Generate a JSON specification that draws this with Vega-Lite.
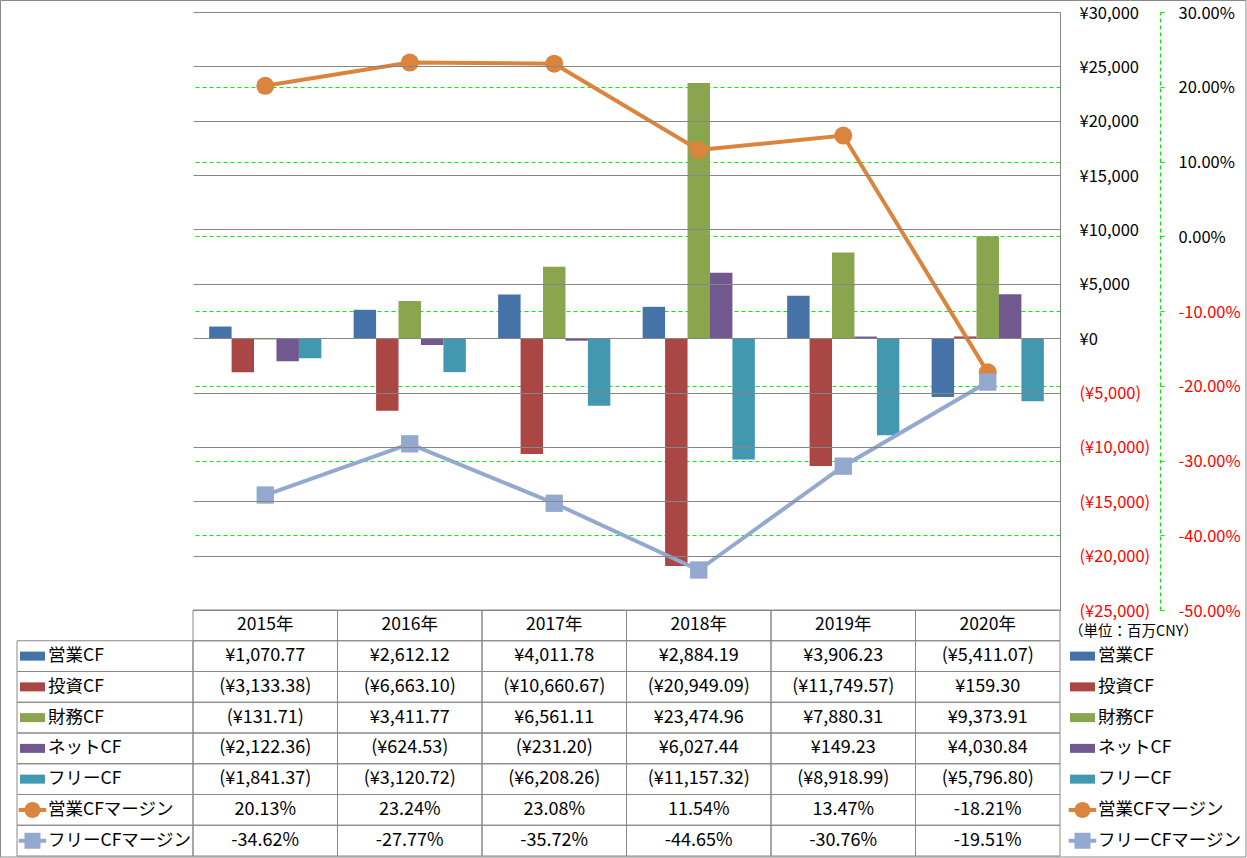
{
  "$schema": "https://vega.github.io/schema/vega-lite/v6.json",
  "width": 867,
  "height": 598,
  "autosize": {"type": "none"},
  "padding": {"left": 193, "top": 12, "right": 187, "bottom": 248},
  "background": "#ffffff",
  "config": {
    "font": "Noto Sans CJK JP",
    "view": {"stroke": null},
    "locale": {"number": {"decimal": ".", "thousands": ",", "grouping": [3], "currency": ["¥", ""], "minus": "-"}}
  },
  "datasets": {
    "cf": [
      {"series": "営業CF", "year": "2015年", "value": 1070.77},
      {"series": "営業CF", "year": "2016年", "value": 2612.12},
      {"series": "営業CF", "year": "2017年", "value": 4011.78},
      {"series": "営業CF", "year": "2018年", "value": 2884.19},
      {"series": "営業CF", "year": "2019年", "value": 3906.23},
      {"series": "営業CF", "year": "2020年", "value": -5411.07},
      {"series": "投資CF", "year": "2015年", "value": -3133.38},
      {"series": "投資CF", "year": "2016年", "value": -6663.10},
      {"series": "投資CF", "year": "2017年", "value": -10660.67},
      {"series": "投資CF", "year": "2018年", "value": -20949.09},
      {"series": "投資CF", "year": "2019年", "value": -11749.57},
      {"series": "投資CF", "year": "2020年", "value": 159.30},
      {"series": "財務CF", "year": "2015年", "value": -131.71},
      {"series": "財務CF", "year": "2016年", "value": 3411.77},
      {"series": "財務CF", "year": "2017年", "value": 6561.11},
      {"series": "財務CF", "year": "2018年", "value": 23474.96},
      {"series": "財務CF", "year": "2019年", "value": 7880.31},
      {"series": "財務CF", "year": "2020年", "value": 9373.91},
      {"series": "ネットCF", "year": "2015年", "value": -2122.36},
      {"series": "ネットCF", "year": "2016年", "value": -624.53},
      {"series": "ネットCF", "year": "2017年", "value": -231.20},
      {"series": "ネットCF", "year": "2018年", "value": 6027.44},
      {"series": "ネットCF", "year": "2019年", "value": 149.23},
      {"series": "ネットCF", "year": "2020年", "value": 4030.84},
      {"series": "フリーCF", "year": "2015年", "value": -1841.37},
      {"series": "フリーCF", "year": "2016年", "value": -3120.72},
      {"series": "フリーCF", "year": "2017年", "value": -6208.26},
      {"series": "フリーCF", "year": "2018年", "value": -11157.32},
      {"series": "フリーCF", "year": "2019年", "value": -8918.99},
      {"series": "フリーCF", "year": "2020年", "value": -5796.80},
      {"series": "営業CFマージン", "year": "2015年", "value": 0.2013},
      {"series": "営業CFマージン", "year": "2016年", "value": 0.2324},
      {"series": "営業CFマージン", "year": "2017年", "value": 0.2308},
      {"series": "営業CFマージン", "year": "2018年", "value": 0.1154},
      {"series": "営業CFマージン", "year": "2019年", "value": 0.1347},
      {"series": "営業CFマージン", "year": "2020年", "value": -0.1821},
      {"series": "フリーCFマージン", "year": "2015年", "value": -0.3462},
      {"series": "フリーCFマージン", "year": "2016年", "value": -0.2777},
      {"series": "フリーCFマージン", "year": "2017年", "value": -0.3572},
      {"series": "フリーCFマージン", "year": "2018年", "value": -0.4465},
      {"series": "フリーCFマージン", "year": "2019年", "value": -0.3076},
      {"series": "フリーCFマージン", "year": "2020年", "value": -0.1951}
    ],
    "series": [
      {"series": "営業CF"},
      {"series": "投資CF"},
      {"series": "財務CF"},
      {"series": "ネットCF"},
      {"series": "フリーCF"},
      {"series": "営業CFマージン"},
      {"series": "フリーCFマージン"}
    ],
    "unit": [{"t": "（単位：百万CNY）"}],
    "frame": [{"f": "all"}]
  },
  "layer": [
    {
      "data": {"name": "frame"},
      "mark": {"type": "rect", "filled": false, "stroke": "#898989", "strokeWidth": 1},
      "encoding": {
        "x": {"field": "f", "type": "nominal", "scale": {"type": "band", "domain": ["all"], "range": [-192.5, 1053], "paddingInner": 0, "paddingOuter": 0}, "axis": null},
        "y": {"field": "f", "type": "nominal", "scale": {"type": "band", "domain": ["all"], "range": [-11.5, 845], "paddingInner": 0, "paddingOuter": 0}, "axis": null}
      }
    },
    {
      "layer": [
        {
          "data": {"name": "cf"},
          "transform": [{"filter": {"field": "series", "oneOf": ["営業CF", "投資CF", "財務CF", "ネットCF", "フリーCF"]}}],
          "mark": {"type": "bar"},
          "encoding": {
            "x": {"field": "year", "type": "nominal", "scale": {"domain": ["2015年", "2016年", "2017年", "2018年", "2019年", "2020年"], "paddingInner": 0, "paddingOuter": 0}, "axis": null},
            "xOffset": {"field": "series", "type": "nominal", "scale": {"domain": ["営業CF", "投資CF", "財務CF", "ネットCF", "フリーCF"], "paddingInner": 0, "paddingOuter": 0.72}},
            "y": {
              "field": "value", "type": "quantitative",
              "scale": {"domain": [-25000, 30000], "nice": false, "zero": false},
              "axis": {
                "orient": "right", "title": null, "zindex": 1,
                "values": [-25000, -20000, -15000, -10000, -5000, 0, 5000, 10000, 15000, 20000, 25000, 30000],
                "format": "($,.0f",
                "grid": true, "gridColor": "#868686", "gridWidth": 1,
                "domain": true, "domainColor": "#868686", "domainWidth": 1,
                "ticks": false, "tickSize": 0,
                "labelPadding": 19, "labelAlign": "left", "labelBaseline": "middle", "labelFontSize": 16.5, "labelOffset": 1,
                "labelFont": "Noto Sans CJK JP",
                "labelColor": {"condition": {"test": "datum.value < 0", "value": "#ff0000"}, "value": "#000000"},
                "labelOverlap": false, "labelFlush": false, "labelBound": false
              }
            },
            "color": {"field": "series", "type": "nominal", "scale": {"domain": ["営業CF", "投資CF", "財務CF", "ネットCF", "フリーCF"], "range": ["#4572A7", "#AA4643", "#89A54E", "#71588F", "#4198AF"]}, "legend": null}
          }
        },
        {
          "data": {"name": "cf"},
          "encoding": {
            "x": {"field": "year", "type": "nominal", "scale": {"domain": ["2015年", "2016年", "2017年", "2018年", "2019年", "2020年"], "paddingInner": 0, "paddingOuter": 0}, "axis": null},
            "y": {
              "field": "value", "type": "quantitative",
              "scale": {"domain": [-0.5, 0.3], "nice": false, "zero": false},
              "axis": {
                "orient": "right", "offset": 100, "title": null, "zindex": 0,
                "values": [-0.5, -0.4, -0.3, -0.2, -0.1, 0, 0.1, 0.2, 0.3],
                "format": ".2%",
                "grid": true, "gridColor": "#00ee00", "gridDash": [4, 3], "gridWidth": 1,
                "gridOpacity": {"condition": {"test": "datum.value > 0.25 || datum.value < -0.45", "value": 0}, "value": 1},
                "domain": true, "domainColor": "#00ee00", "domainDash": [4, 3], "domainWidth": 1,
                "ticks": true, "tickColor": "#00ee00", "tickSize": 4, "tickWidth": 1,
                "labelPadding": 14, "labelAlign": "left", "labelBaseline": "middle", "labelFontSize": 16.5, "labelOffset": 1,
                "labelFont": "Noto Sans CJK JP",
                "labelColor": {"condition": {"test": "datum.value < 0", "value": "#ff0000"}, "value": "#000000"},
                "labelOverlap": false, "labelFlush": false, "labelBound": false
              }
            }
          },
          "layer": [
            {"transform": [{"filter": {"field": "series", "equal": "営業CFマージン"}}], "mark": {"type": "line", "color": "#DB843D", "strokeWidth": 4}},
            {"transform": [{"filter": {"field": "series", "equal": "営業CFマージン"}}], "mark": {"type": "point", "shape": "circle", "filled": true, "opacity": 1, "size": 324, "color": "#DB843D"}},
            {"transform": [{"filter": {"field": "series", "equal": "フリーCFマージン"}}], "mark": {"type": "line", "color": "#93A9CF", "strokeWidth": 4}},
            {"transform": [{"filter": {"field": "series", "equal": "フリーCFマージン"}}], "mark": {"type": "point", "shape": "square", "filled": true, "opacity": 1, "size": 300, "color": "#93A9CF"}}
          ]
        }
      ],
      "resolve": {"scale": {"y": "independent"}}
    },
    {
      "data": {"name": "cf"},
      "encoding": {
        "x": {"field": "year", "type": "nominal", "scale": {"type": "band", "domain": ["2015年", "2016年", "2017年", "2018年", "2019年", "2020年"], "paddingInner": 0, "paddingOuter": 0}, "axis": null},
        "y": {"field": "series", "type": "nominal", "scale": {"type": "band", "domain": ["hdr", "営業CF", "投資CF", "財務CF", "ネットCF", "フリーCF", "営業CFマージン", "フリーCFマージン"], "range": [598, 844], "paddingInner": 0, "paddingOuter": 0}, "axis": null}
      },
      "layer": [
        {"mark": {"type": "rect", "filled": false, "stroke": "#898989", "strokeWidth": 1}},
        {
          "transform": [{"filter": {"field": "series", "oneOf": ["営業CF", "投資CF", "財務CF", "ネットCF", "フリーCF"]}}],
          "mark": {"type": "text", "fontSize": 18, "align": "center", "baseline": "middle", "color": "#000000"},
          "encoding": {"text": {"field": "value", "type": "quantitative", "format": "($,.2f"}}
        },
        {
          "transform": [{"filter": {"field": "series", "oneOf": ["営業CFマージン", "フリーCFマージン"]}}],
          "mark": {"type": "text", "fontSize": 18, "align": "center", "baseline": "middle", "color": "#000000"},
          "encoding": {"text": {"field": "value", "type": "quantitative", "format": ".2%"}}
        },
        {
          "transform": [{"filter": {"field": "series", "equal": "営業CF"}}],
          "mark": {"type": "rect", "filled": false, "stroke": "#898989", "strokeWidth": 1},
          "encoding": {"y": {"datum": "hdr", "type": "nominal", "axis": null}}
        },
        {
          "transform": [{"filter": {"field": "series", "equal": "営業CF"}}],
          "mark": {"type": "text", "fontSize": 17.5, "align": "center", "baseline": "middle", "color": "#000000"},
          "encoding": {"y": {"datum": "hdr", "type": "nominal", "axis": null}, "text": {"field": "year", "type": "nominal"}}
        }
      ]
    },
    {
      "data": {"name": "series"},
      "encoding": {
        "y": {"field": "series", "type": "nominal", "scale": {"type": "band", "domain": ["hdr", "営業CF", "投資CF", "財務CF", "ネットCF", "フリーCF", "営業CFマージン", "フリーCFマージン"], "range": [598, 844], "paddingInner": 0, "paddingOuter": 0}, "axis": null}
      },
      "layer": [
        {
          "mark": {"type": "rect", "filled": false, "stroke": "#898989", "strokeWidth": 1},
          "encoding": {"x": {"datum": "L", "type": "nominal", "scale": {"type": "band", "domain": ["L"], "range": [-176, 0], "paddingInner": 0, "paddingOuter": 0}, "axis": null}}
        },
        {
          "mark": {"type": "point", "filled": true, "opacity": 1, "size": 625},
          "encoding": {
            "x": {"datum": "L", "type": "nominal", "bandPosition": 0.088, "axis": null},
            "shape": {"field": "series", "type": "nominal", "scale": {"domain": ["営業CF", "投資CF", "財務CF", "ネットCF", "フリーCF", "営業CFマージン", "フリーCFマージン"], "range": ["M-1,-0.36H1V0.36H-1Z", "M-1,-0.36H1V0.36H-1Z", "M-1,-0.36H1V0.36H-1Z", "M-1,-0.36H1V0.36H-1Z", "M-1,-0.36H1V0.36H-1Z", "M-1.1,-0.16H1.1V0.16H-1.1Z M0.64,0A0.64,0.64,0,1,1,-0.64,0A0.64,0.64,0,1,1,0.64,0Z", "M-1.1,-0.16H1.1V0.16H-1.1Z M-0.64,-0.64H0.64V0.64H-0.64Z"]}, "legend": null},
            "color": {"field": "series", "type": "nominal", "scale": {"domain": ["営業CF", "投資CF", "財務CF", "ネットCF", "フリーCF", "営業CFマージン", "フリーCFマージン"], "range": ["#4572A7", "#AA4643", "#89A54E", "#71588F", "#4198AF", "#DB843D", "#93A9CF"]}, "legend": null}
          }
        },
        {
          "mark": {"type": "text", "align": "left", "baseline": "middle", "fontSize": 17.5, "color": "#000000"},
          "encoding": {
            "x": {"datum": "L", "type": "nominal", "bandPosition": 0.176, "axis": null},
            "text": {"field": "series", "type": "nominal"}
          }
        }
      ]
    },
    {
      "data": {"name": "series"},
      "encoding": {
        "y": {"field": "series", "type": "nominal", "scale": {"type": "band", "domain": ["hdr", "営業CF", "投資CF", "財務CF", "ネットCF", "フリーCF", "営業CFマージン", "フリーCFマージン"], "range": [598, 844], "paddingInner": 0, "paddingOuter": 0}, "axis": null}
      },
      "layer": [
        {
          "mark": {"type": "point", "filled": true, "opacity": 1, "size": 625},
          "encoding": {
            "x": {"datum": "R", "type": "nominal", "bandPosition": 0.088, "scale": {"type": "band", "domain": ["R"], "range": [874, 1050], "paddingInner": 0, "paddingOuter": 0}, "axis": null},
            "shape": {"field": "series", "type": "nominal", "scale": {"domain": ["営業CF", "投資CF", "財務CF", "ネットCF", "フリーCF", "営業CFマージン", "フリーCFマージン"], "range": ["M-1,-0.36H1V0.36H-1Z", "M-1,-0.36H1V0.36H-1Z", "M-1,-0.36H1V0.36H-1Z", "M-1,-0.36H1V0.36H-1Z", "M-1,-0.36H1V0.36H-1Z", "M-1.1,-0.16H1.1V0.16H-1.1Z M0.64,0A0.64,0.64,0,1,1,-0.64,0A0.64,0.64,0,1,1,0.64,0Z", "M-1.1,-0.16H1.1V0.16H-1.1Z M-0.64,-0.64H0.64V0.64H-0.64Z"]}, "legend": null},
            "color": {"field": "series", "type": "nominal", "scale": {"domain": ["営業CF", "投資CF", "財務CF", "ネットCF", "フリーCF", "営業CFマージン", "フリーCFマージン"], "range": ["#4572A7", "#AA4643", "#89A54E", "#71588F", "#4198AF", "#DB843D", "#93A9CF"]}, "legend": null}
          }
        },
        {
          "mark": {"type": "text", "align": "left", "baseline": "middle", "fontSize": 17.5, "color": "#000000"},
          "encoding": {
            "x": {"datum": "R", "type": "nominal", "bandPosition": 0.176, "axis": null},
            "text": {"field": "series", "type": "nominal"}
          }
        },
        {
          "data": {"name": "unit"},
          "mark": {"type": "text", "align": "left", "baseline": "middle", "fontSize": 14.5, "color": "#000000"},
          "encoding": {
            "x": {"datum": "R", "type": "nominal", "bandPosition": 0.012, "axis": null},
            "y": {"datum": "hdr", "type": "nominal", "bandPosition": 0.72, "axis": null},
            "text": {"field": "t", "type": "nominal"}
          }
        }
      ]
    }
  ],
  "resolve": {"scale": {"x": "independent", "y": "independent", "color": "independent", "shape": "independent"}}
}
